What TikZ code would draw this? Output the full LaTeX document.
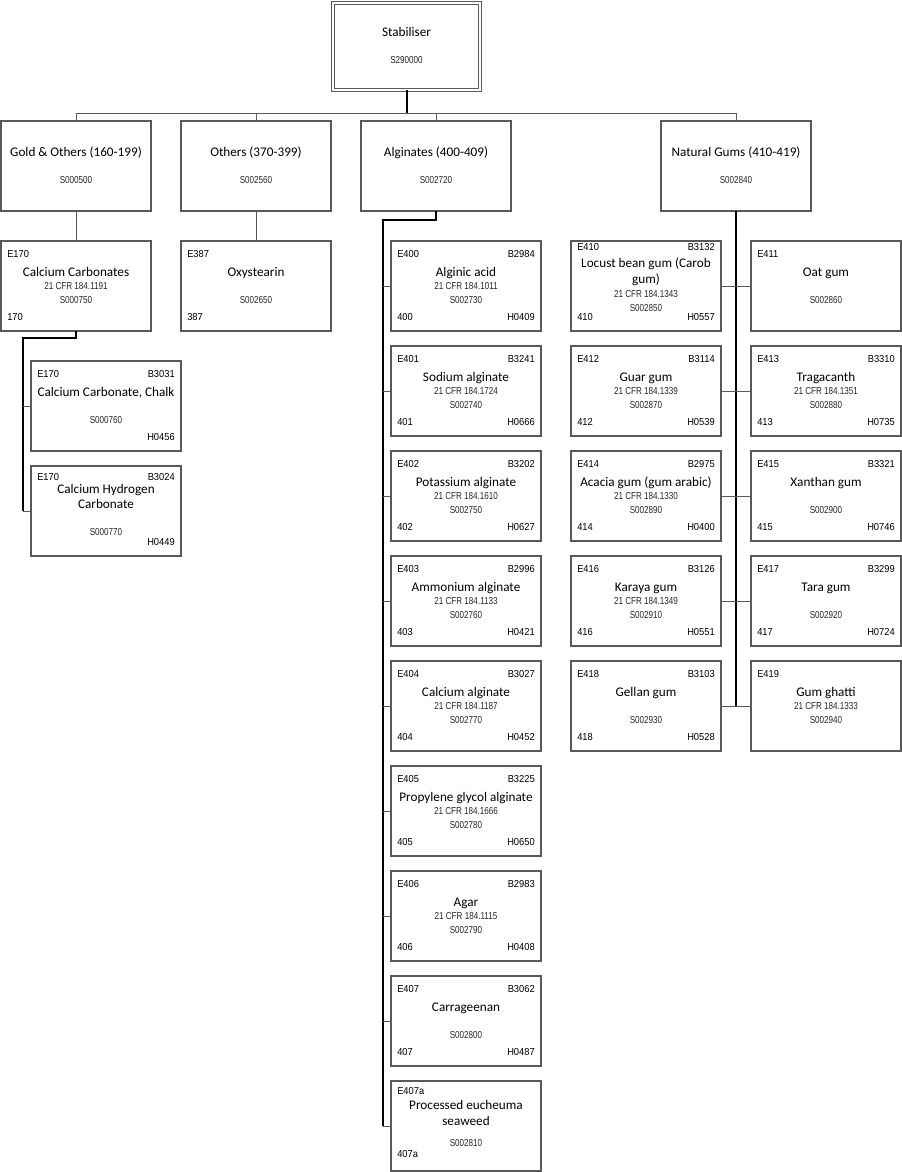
\documentclass[tikz,border=0pt]{standalone}
\usepackage{fontspec}
\setmainfont{Carlito}
\newfontfamily\tagfont[FakeStretch=0.92]{Liberation Sans}
\newfontfamily\codefont[FakeStretch=0.8]{Liberation Sans}
\usepackage{tikz}
\usetikzlibrary{positioning}

\tikzset{
  card/.style={draw=black!65, line width=0.9pt, minimum width=112.5pt,
    minimum height=67.5pt, inner sep=0pt, outer sep=0pt, anchor=north west},
  title/.style={font=\fontsize{9.9pt}{11pt}\selectfont, inner sep=0pt,
    text height=6.4pt, text depth=0pt},
  code/.style={font=\codefont\fontsize{7.6pt}{9pt}\selectfont, inner sep=0pt,
    text height=5.4pt, text depth=0pt, text=black!85},
  tag/.style={font=\tagfont\fontsize{7.6pt}{9pt}\selectfont, inner sep=0pt,
    text height=5.4pt, text depth=0pt},
  link/.style={draw=black!65, line width=0.75pt},
  trunk/.style={draw=black, line width=1.5pt}
}

\begin{document}
\begin{tikzpicture}[x=0.75pt, y=-0.75pt]
  \useasboundingbox (0,0) rectangle (902,1172);

  % root
  \node[card, double=white, double distance=1.6pt, line width=0.7pt,
    minimum width=110.25pt, minimum height=65.25pt] (root) at (333,3) {};
  \node[title] (root-n) at (406.5,32) {Stabiliser};
  \node[code] (root-s) at (406.5,60) {S290000};

  % groups
  \foreach \id/\x/\nm/\scode in {gold/1/{Gold \& Others (160-199)}/S000500,
      others/181/{Others (370-399)}/S002560,
      algin/361/{Alginates (400-409)}/S002720,
      gums/661/{Natural Gums (410-419)}/S002840}{
    \node[card] (\id) at (\x,121) {};
    \node[title] (\id-n) at ([shift={(0,31)}]\id.north) {\nm};
    \node[code] (\id-s) at ([shift={(0,59)}]\id.north) {\scode};
  }

  % cards
  \foreach \id/\x/\y/\etag/\btag/\nm/\cfr/\scode/\num/\htag in {
      cc/1/241/E170/{}/Calcium Carbonates/21 CFR 184.1191/S000750/170/{},
      oxy/181/241/E387/{}/Oxystearin/{}/S002650/387/{},
      chalk/31/361/E170/B3031/{Calcium Carbonate, Chalk}/{}/S000760/{}/H0456,
      alginic/391/241/E400/B2984/Alginic acid/21 CFR 184.1011/S002730/400/H0409,
      sodium/391/346/E401/B3241/Sodium alginate/21 CFR 184.1724/S002740/401/H0666,
      potass/391/451/E402/B3202/Potassium alginate/21 CFR 184.1610/S002750/402/H0627,
      ammon/391/556/E403/B2996/Ammonium alginate/21 CFR 184.1133/S002760/403/H0421,
      calcalg/391/661/E404/B3027/Calcium alginate/21 CFR 184.1187/S002770/404/H0452,
      propyl/391/766/E405/B3225/Propylene glycol alginate/21 CFR 184.1666/S002780/405/H0650,
      agar/391/871/E406/B2983/Agar/21 CFR 184.1115/S002790/406/H0408,
      carra/391/976/E407/B3062/Carrageenan/{}/S002800/407/H0487,
      oat/751/241/E411/{}/Oat gum/{}/S002860/{}/{},
      guar/571/346/E412/B3114/Guar gum/21 CFR 184.1339/S002870/412/H0539,
      trag/751/346/E413/B3310/Tragacanth/21 CFR 184.1351/S002880/413/H0735,
      acacia/571/451/E414/B2975/Acacia gum (gum arabic)/21 CFR 184.1330/S002890/414/H0400,
      xanth/751/451/E415/B3321/Xanthan gum/{}/S002900/415/H0746,
      karaya/571/556/E416/B3126/Karaya gum/21 CFR 184.1349/S002910/416/H0551,
      tara/751/556/E417/B3299/Tara gum/{}/S002920/417/H0724,
      gellan/571/661/E418/B3103/Gellan gum/{}/S002930/418/H0528,
      ghatti/751/661/E419/{}/Gum ghatti/21 CFR 184.1333/S002940/{}/{}}{
    \node[card] (\id) at (\x,\y) {};
    \node[tag, anchor=west] (\id-e) at ([shift={(6,13)}]\id.north west) {\etag};
    \node[tag, anchor=east] (\id-b) at ([shift={(-6,13)}]\id.north east) {\btag};
    \node[title] (\id-n) at ([shift={(0,31)}]\id.north) {\nm};
    \node[code] (\id-c) at (\id.center) {\cfr};
    \node[code] (\id-s) at ([shift={(0,14)}]\id.center) {\scode};
    \node[tag, anchor=west] (\id-l) at ([shift={(6,-14)}]\id.south west) {\num};
    \node[tag, anchor=east] (\id-h) at ([shift={(-6,-14)}]\id.south east) {\htag};
  }

  % two-line cards
  \node[card] (hyd) at (31,466) {};
  \node[tag, anchor=west] (hyd-e) at ([shift={(6,11)}]hyd.north west) {E170};
  \node[tag, anchor=east] (hyd-b) at ([shift={(-6,11)}]hyd.north east) {B3024};
  \node[title] (hyd-n1) at ([shift={(0,23.5)}]hyd.north) {Calcium Hydrogen};
  \node[title] (hyd-n2) at ([shift={(0,38.5)}]hyd.north) {Carbonate};
  \node[code] (hyd-s) at ([shift={(0,66)}]hyd.north) {S000770};
  \node[tag, anchor=east] (hyd-h) at ([shift={(-6,-14)}]hyd.south east) {H0449};

  \node[card] (sea) at (391,1081) {};
  \node[tag, anchor=west] (sea-e) at ([shift={(6,10)}]sea.north west) {E407a};
  \node[title] (sea-n1) at ([shift={(0,24)}]sea.north) {Processed eucheuma};
  \node[title] (sea-n2) at ([shift={(0,40)}]sea.north) {seaweed};
  \node[code] (sea-s) at ([shift={(0,62)}]sea.north) {S002810};
  \node[tag, anchor=west] (sea-l) at ([shift={(6,-17)}]sea.south west) {407a};

  \node[card] (lbg) at (571,241) {};
  \node[tag, anchor=west] (lbg-e) at ([shift={(6,6)}]lbg.north west) {E410};
  \node[tag, anchor=east] (lbg-b) at ([shift={(-6,6)}]lbg.north east) {B3132};
  \node[title] (lbg-n1) at ([shift={(0,22)}]lbg.north) {Locust bean gum (Carob};
  \node[title] (lbg-n2) at ([shift={(0,38)}]lbg.north) {gum)};
  \node[code] (lbg-c) at ([shift={(0,53)}]lbg.north) {21 CFR 184.1343};
  \node[code] (lbg-s) at ([shift={(0,67)}]lbg.north) {S002850};
  \node[tag, anchor=west] (lbg-l) at ([shift={(6,-14)}]lbg.south west) {410};
  \node[tag, anchor=east] (lbg-h) at ([shift={(-6,-14)}]lbg.south east) {H0557};

  % connectors
  \coordinate (bus) at (406.5,113);
  \draw[link] (gold.north) -- (gold.north |- bus) -- (gums.north |- bus) -- (gums.north);
  \draw[link] (others.north) -- (others.north |- bus);
  \draw[link] (algin.north) -- (algin.north |- bus);
  \draw[trunk] (root.south) -- (bus);

  \draw[link] (gold.south) -- (cc.north);
  \draw[link] (others.south) -- (oxy.north);

  \draw[trunk] (cc.south) -- ++(0,7) -| ([xshift=-6pt]hyd.west);
  \foreach \k in {chalk,hyd}
    \draw[link] ([xshift=-6pt]\k.west) -- (\k.west);

  \draw[trunk] (algin.south) -- ++(0,9) -| ([xshift=-6pt]sea.west);
  \foreach \k in {alginic,sodium,potass,ammon,calcalg,propyl,agar,carra,sea}
    \draw[link] ([xshift=-6pt]\k.west) -- (\k.west);

  \draw[trunk] (gums.south) -- (gums.south |- gellan.east);
  \foreach \a/\b in {lbg/oat,guar/trag,acacia/xanth,karaya/tara,gellan/ghatti}
    \draw[link] (\a.east) -- (\b.west);
\end{tikzpicture}
\end{document}
